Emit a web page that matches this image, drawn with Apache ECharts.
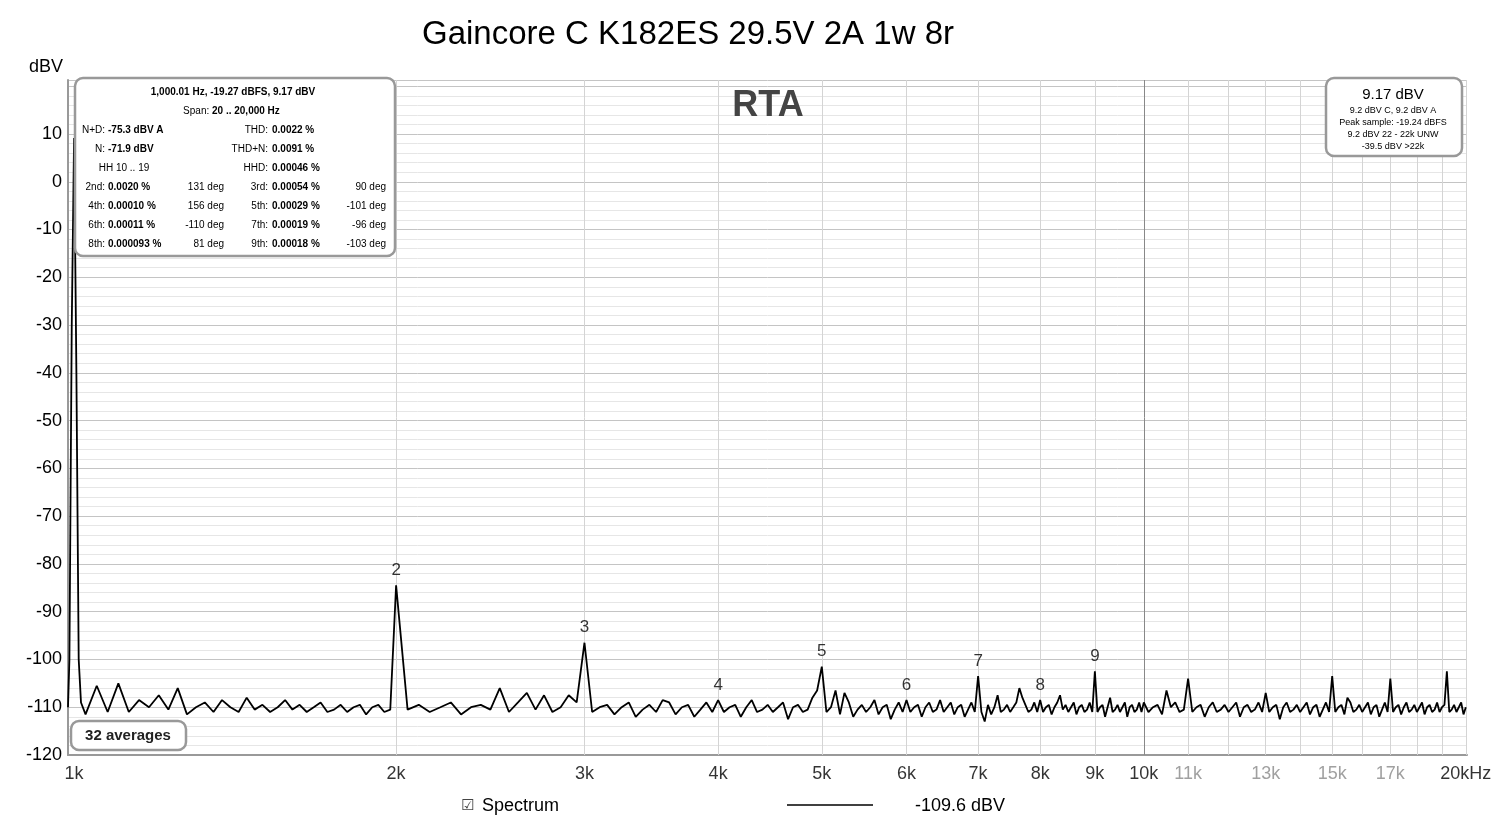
<!DOCTYPE html>
<html><head><meta charset="utf-8">
<script src="https://cdn.jsdelivr.net/npm/echarts@6/dist/echarts.min.js"></script>
<style>html,body{margin:0;padding:0;background:#fff}#c{width:1500px;height:825px}</style>
</head><body><div id="c"></div>
<script>
// ---- data ----
const fundFreq = [990, 995, 1000, 1005, 1010, 1015];
const fundVals = [-100, -30, 9.17, -40, -100, -109];
const segA_start = 1025, segA_step = 25;
const segA = [-111.5,-105.5,-111,-105,-111,-108.5,-110,-107.5,-110.5,-106,-111.5,-110,-109,-111,-108.5,-110,-111,-108,-110.5,-109.5,-111,-110,-108.5,-110.5,-109.5,-111,-110,-109,-111,-110.5,-109.5,-111,-110,-109.5,-111.5,-110,-109.5,-111,-110.5];
const segB_start = 2000, segB_step = 50;
const segB = [
-84.5,-110.5,-109.5,-111,-110,-109,-111.5,-110,-109.5,-110.5,-106,-111,-109,-107,-110.5,-107.5,-111,-110,-107.5,-109,
-96.5,-111,-110,-109.5,-111.5,-110,-109,-112,-110.5,-109.5,-111,-108.5,-109,-111.5,-110,-109.5,-112,-110.5,-109,-111,
-108.5,-111,-110,-109.5,-112,-110,-108.5,-111,-110.5,-109.5,-111,-110,-109,-112.5,-110,-109.5,-111,-110.5,-108,-106.5,
-101.5,-111,-110,-106.5,-111.5,-107,-109,-112,-110.5,-109.5,-111,-110,-108.5,-111.5,-110,-109.5,-112.5,-110.5,-109,-111,
-108.5,-111,-110,-109.5,-112,-110,-109,-111,-110.5,-108.5,-111,-110,-109,-111.5,-110,-109.5,-112,-110.5,-109,-111,
-103.5,-111,-113,-109.5,-111.5,-110,-107.5,-111,-110.5,-109.5,-111,-110,-109,-106,-108,-109.5,-111,-110.5,-109,-111,
-108.5,-111,-110,-109.5,-111.5,-110,-109,-107.5,-110.5,-109.5,-111,-110,-109,-111.5,-110,-109.5,-111,-110.5,-109,-111,
-102.5,-111,-110,-109.5,-112,-110,-108,-111,-110.5,-109.5,-111,-110,-109,-112,-110,-109.5,-111,-110.5,-109,-111];
const segC_start = 10000, segC_step = 100;
const segC = [
-109,-111,-110,-109.5,-111.5,-106.5,-110,-109,-111,-110.5,
-104,-111,-110,-109.5,-112,-110,-109,-111,-110.5,-109.5,
-111,-110,-109,-112,-110,-109.5,-111,-110.5,-109,-111,
-107,-111,-110,-109.5,-112.5,-110,-109,-111,-110.5,-109.5,
-111,-110,-109,-111.5,-110,-109.5,-112,-110.5,-109,-111,
-103.5,-111,-110,-109.5,-111.5,-108,-109,-111,-110.5,-109.5,
-111,-110,-109,-111.5,-110,-109.5,-112,-110.5,-109,-111,
-104,-111,-110,-109.5,-111.5,-110,-109,-111,-110.5,-109.5,
-111,-110,-109,-111.5,-110,-109.5,-111,-110.5,-109,-111,
-110,-109.5,-102.5,-111,-110.5,-109.5,-111,-110,-109,-111.5,
-110];
const harmFreq = [2000, 3000, 4000, 5000, 6000, 7000, 8000, 9000];
const harmVals = [-84.5, -96.5, -108.5, -101.5, -108.5, -103.5, -108.5, -102.5];
const harmLabels = ['2','3','4','5','6','7','8','9'];
const gridFreqs = [2000,3000,4000,5000,6000,7000,8000,9000,10000,11000,12000,13000,14000,15000,16000,17000,18000,19000,20000];
const xLabelFreqs = [1000,2000,3000,4000,5000,6000,7000,8000,9000,10000,11000,13000,15000,17000,20000];
const xLabelText = ['1k','2k','3k','4k','5k','6k','7k','8k','9k','10k','11k','13k','15k','17k','20kHz'];
const yTicks = [10,0,-10,-20,-30,-40,-50,-60,-70,-80,-90,-100,-110,-120];

// ---- build ----
const pts = [];
fundFreq.forEach((f,i)=>pts.push([f,fundVals[i]]));
segA.forEach((v,i)=>pts.push([segA_start+i*segA_step,v]));
segB.forEach((v,i)=>pts.push([segB_start+i*segB_step,v]));
segC.forEach((v,i)=>pts.push([segC_start+i*segC_step,v]));
pts.unshift([987,-110]);

const grayLbl = {11000:1,13000:1,15000:1,17000:1};
const FONT = 'Liberation Sans, Arial, sans-serif';
const mlData = gridFreqs.map(f=>({xAxis:f, lineStyle:{color: f===10000?'#888':'#d4d4d4', width:1, type:'solid'}}));
const lblSeries = xLabelFreqs.map((f,i)=>({value:[f,-120], label:{formatter:xLabelText[i], color: grayLbl[f]?'#888':'#000'}}));

const texts = [];
function T(x,y,s,opt){texts.push(Object.assign({type:'text',x:x,y:y,style:Object.assign({text:s,font:'11px '+FONT,fill:'#000',textVerticalAlign:'middle'},opt||{})}));}
const F10 = '10px '+FONT, B10 = 'bold 10px '+FONT;
function row(y, l1, v1, d1, l2, v2, d2){
  T(105,y,l1,{textAlign:'right',font:F10});
  T(108,y,v1,{font:B10});
  if(d1) T(224,y,d1,{textAlign:'right',font:F10});
  T(268,y,l2,{textAlign:'right',font:F10});
  T(272,y,v2,{font:B10});
  if(d2) T(386,y,d2,{textAlign:'right',font:F10});
}
T(233,92,'1,000.01 Hz, -19.27 dBFS, 9.17 dBV',{textAlign:'center',font:B10});
T(212,111,'Span: ',{textAlign:'right',font:F10});
T(212,111,'20 .. 20,000 Hz',{font:B10});
row(130,'N+D:','-75.3 dBV A','', 'THD:','0.0022 %','');
row(149,'N:','-71.9 dBV','', 'THD+N:','0.0091 %','');
T(124,168,'HH 10 .. 19',{textAlign:'center',font:F10});
T(268,168,'HHD:',{textAlign:'right',font:F10});
T(272,168,'0.00046 %',{font:B10});
row(187,'2nd:','0.0020 %','131 deg','3rd:','0.00054 %','90 deg');
row(206,'4th:','0.00010 %','156 deg','5th:','0.00029 %','-101 deg');
row(225,'6th:','0.00011 %','-110 deg','7th:','0.00019 %','-96 deg');
row(244,'8th:','0.000093 %','81 deg','9th:','0.00018 %','-103 deg');
T(1393,95,'9.17 dBV',{textAlign:'center',font:'15px '+FONT});
T(1393,111,'9.2 dBV C, 9.2 dBV A',{textAlign:'center',font:'9px '+FONT});
T(1393,123,'Peak sample: -19.24 dBFS',{textAlign:'center',font:'9px '+FONT});
T(1393,135,'9.2 dBV 22 - 22k UNW',{textAlign:'center',font:'9px '+FONT});
T(1393,147,'-39.5 dBV >22k',{textAlign:'center',font:'9px '+FONT});
T(128,736,'32 averages',{textAlign:'center',font:'bold 15px '+FONT,fill:'#222'});
T(768,106,'RTA',{textAlign:'center',font:'bold 36px '+FONT,fill:'#444'});
T(482,806,'Spectrum',{font:'18px '+FONT});
T(468,806,'☑',{textAlign:'center',font:'15px DejaVu Sans',fill:'#444'});
T(960,806,'-109.6 dBV',{textAlign:'center',font:'18px '+FONT});
T(46,67,'dBV',{textAlign:'center',font:'18px '+FONT});

const graphics = [
  {type:'rect',shape:{x:75,y:78,width:320,height:178,r:8},style:{fill:'#fff',stroke:'#999',lineWidth:2.5},z:10},
  {type:'rect',shape:{x:1326,y:78,width:136,height:78,r:8},style:{fill:'#fff',stroke:'#999',lineWidth:2.5},z:10},
  {type:'rect',shape:{x:71,y:721,width:115,height:29,r:8},style:{fill:'#fff',stroke:'#999',lineWidth:2.5},z:10},
  {type:'line',shape:{x1:787,y1:805,x2:873,y2:805},style:{stroke:'#000',lineWidth:1.5}}
].concat(texts.map(t=>Object.assign(t,{z:11})));

const chart = echarts.init(document.getElementById('c'));
chart.setOption({
  animation:false,
  title:{text:'Gaincore C K182ES 29.5V 2A 1w 8r',left:683,top:13,textAlign:'center',textStyle:{fontFamily:FONT,fontSize:33,fontWeight:'normal',color:'#000'}},
  grid:{left:68,right:33,top:80,bottom:70},
  xAxis:{type:'log',logBase:10,min:987,max:20050,axisLabel:{show:false},axisTick:{show:false},splitLine:{show:false},minorSplitLine:{show:false},
    axisLine:{onZero:false,lineStyle:{color:'#999',width:2}}},
  yAxis:{type:'value',min:-120,max:21.3,interval:10,
    axisLabel:{fontFamily:FONT,fontSize:18,color:'#000',margin:6,formatter:v=>yTicks.indexOf(v)>=0?String(v):''},
    axisTick:{show:false},axisLine:{show:true,lineStyle:{color:'#999',width:2}},
    splitLine:{lineStyle:{color:'#c4c4c4',width:1}},
    minorTick:{show:false,splitNumber:5},minorSplitLine:{show:true,lineStyle:{color:'#e6e6e6',width:1}}},
  graphic:graphics,
  series:[
    {type:'line',data:pts,symbol:'none',lineStyle:{color:'#000',width:1.8},z:5,
      markLine:{silent:true,symbol:'none',label:{show:false},data:mlData,z:1}},
    {type:'scatter',data:harmFreq.map((f,i)=>({value:[f,harmVals[i]],label:{formatter:harmLabels[i]}})),symbolSize:1,itemStyle:{color:'transparent'},
      label:{show:true,position:'top',distance:6,fontFamily:FONT,fontSize:17,color:'#000'},z:6},
    {type:'scatter',data:lblSeries,symbolSize:1,itemStyle:{color:'transparent'},
      label:{show:true,position:'bottom',distance:10,fontFamily:FONT,fontSize:18}}
  ]
});
</script></body></html>
